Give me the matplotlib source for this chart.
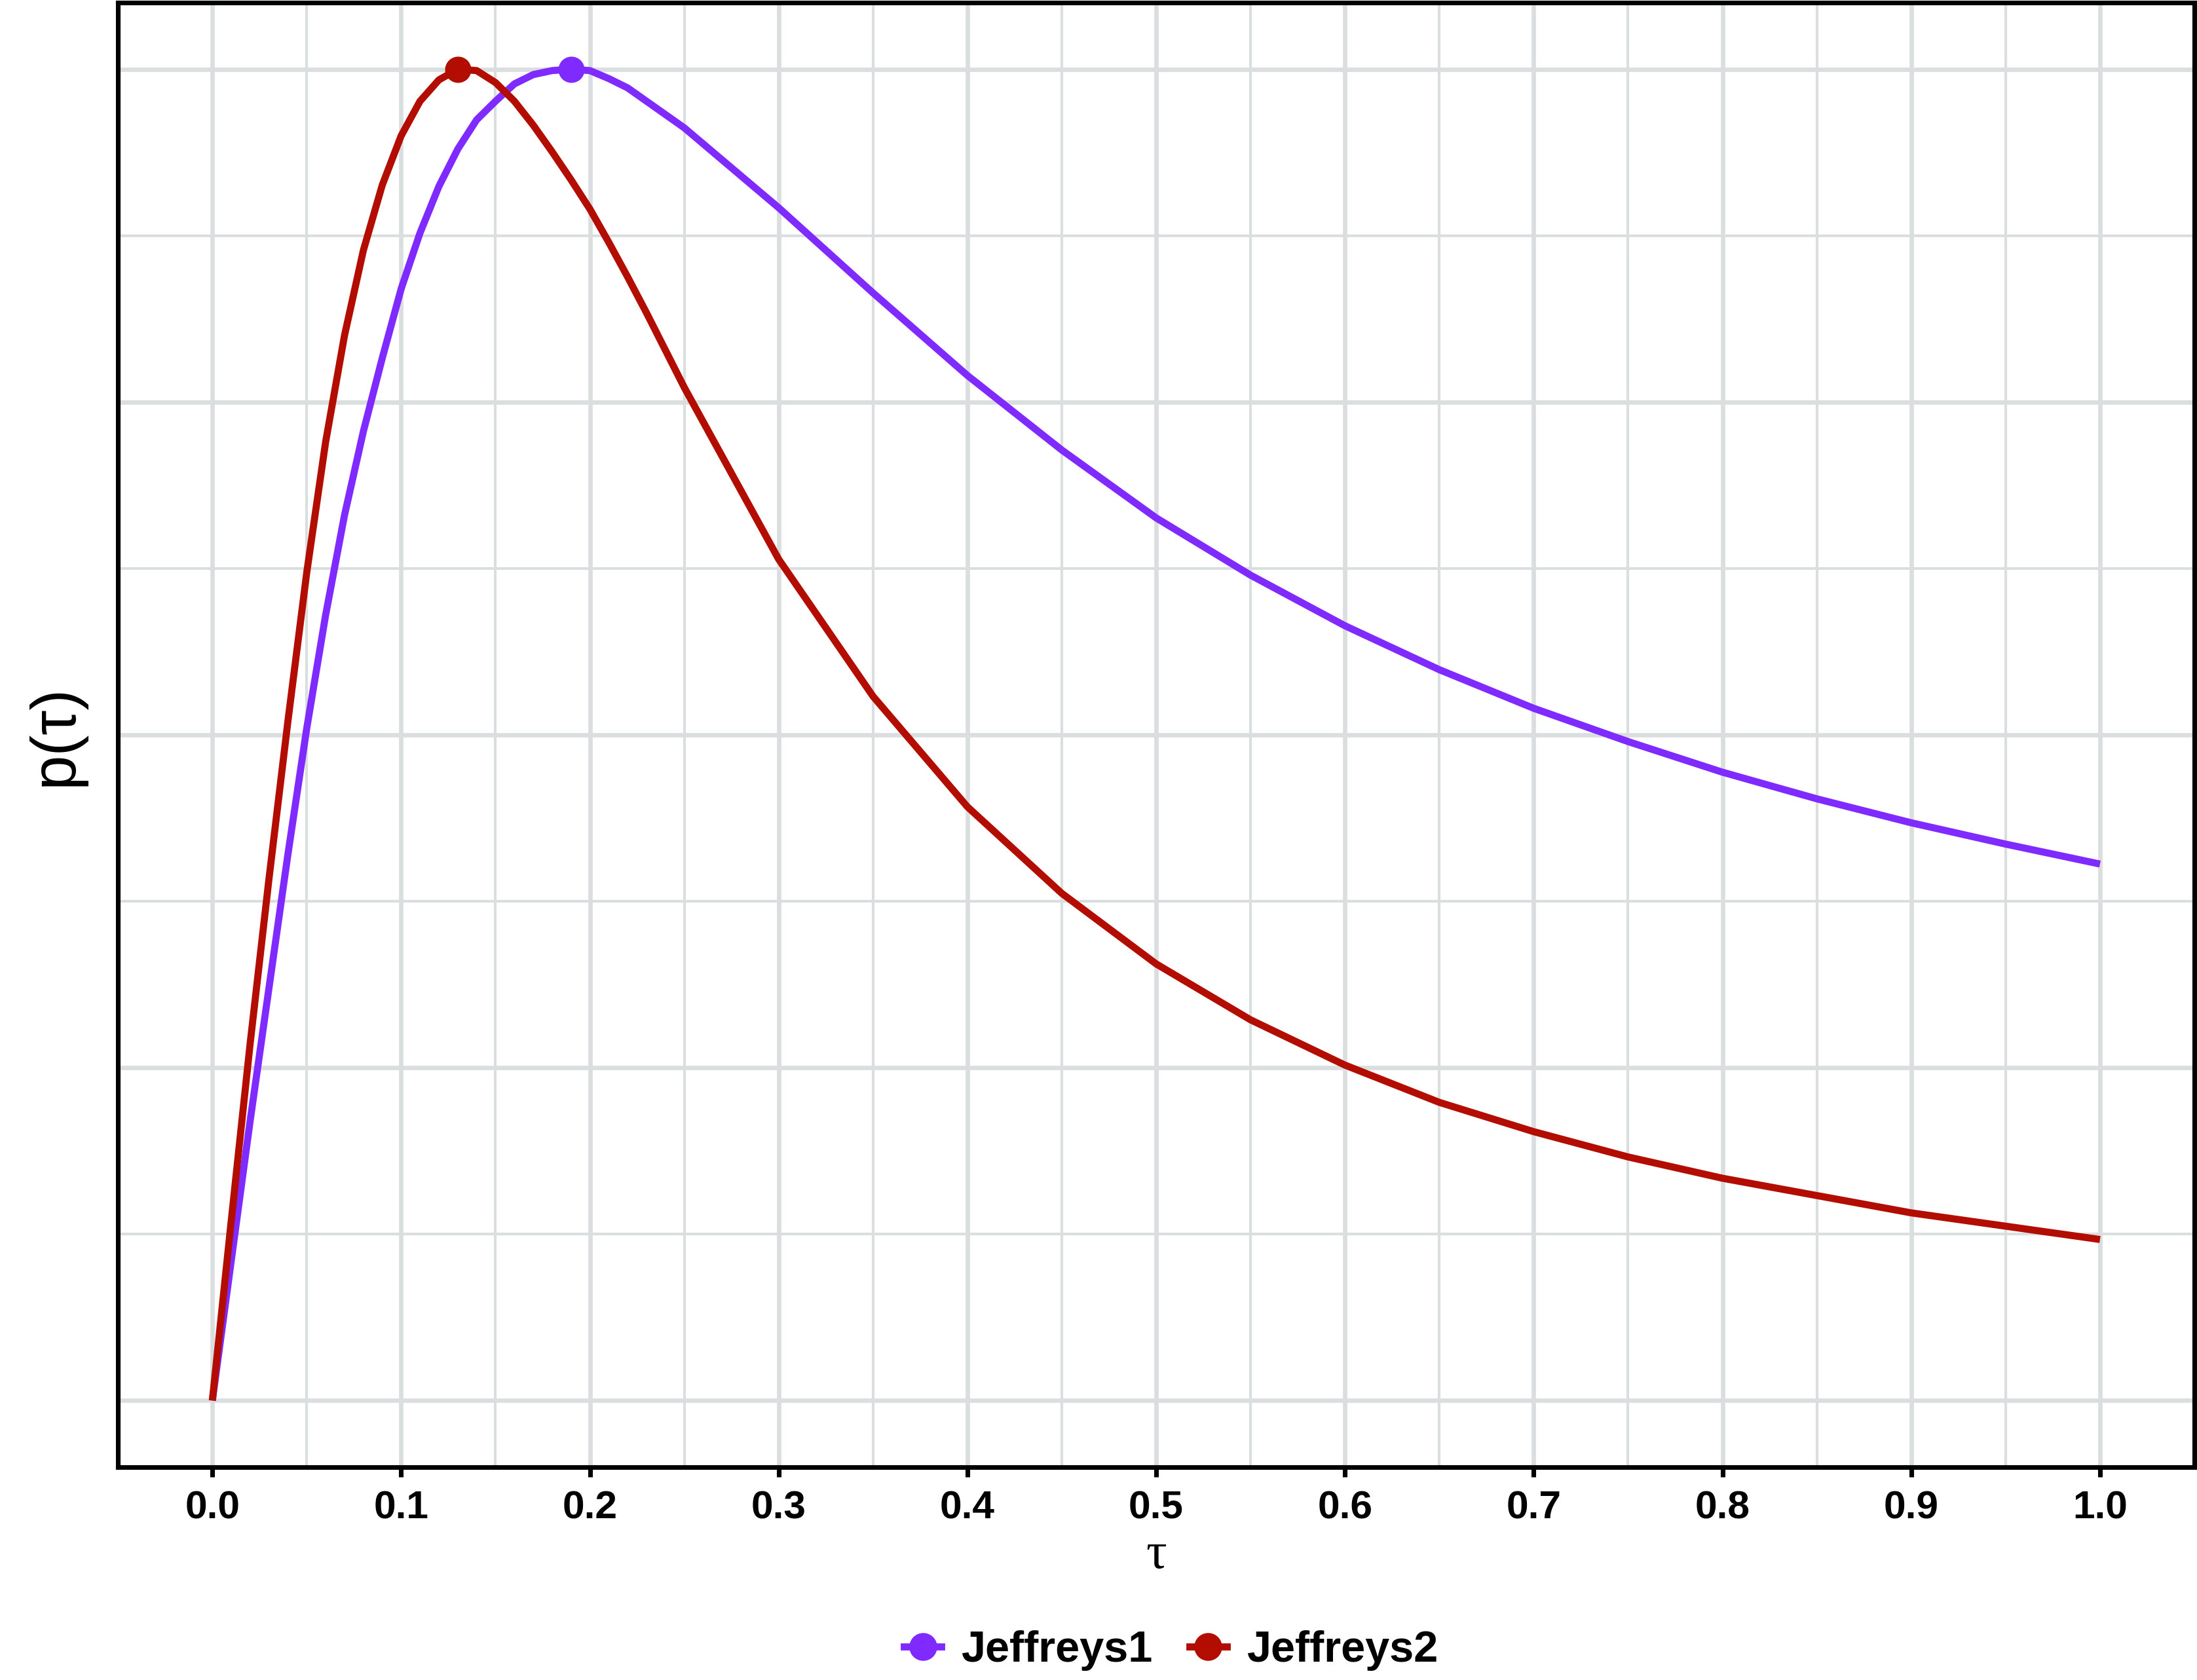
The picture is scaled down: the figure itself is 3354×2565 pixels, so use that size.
import matplotlib.pyplot as plt
from matplotlib.lines import Line2D
from matplotlib.ticker import MultipleLocator
import numpy as np

plt.rcParams['font.family'] = ['Liberation Sans', 'DejaVu Sans']

# tau grid: 0.01 steps up to 0.25, then 0.05 steps
tau = [0.00, 0.01, 0.02, 0.03, 0.04, 0.05, 0.06, 0.07, 0.08, 0.09,
       0.10, 0.11, 0.12, 0.13, 0.14, 0.15, 0.16, 0.17, 0.18, 0.19,
       0.20, 0.21, 0.22, 0.23, 0.24, 0.25,
       0.30, 0.35, 0.40, 0.45, 0.50, 0.55, 0.60, 0.65, 0.70, 0.75,
       0.80, 0.85, 0.90, 0.95, 1.00]

# normalised densities
jeffreys1 = [0.000, 0.105, 0.210, 0.310, 0.410, 0.505, 0.590, 0.665, 0.728, 0.783,
             0.835, 0.877, 0.912, 0.940, 0.962, 0.976, 0.989, 0.996, 0.999, 1.000,
             0.999, 0.993, 0.986, 0.976, 0.966, 0.956,
             0.896, 0.832, 0.770, 0.714, 0.663, 0.620, 0.582, 0.549, 0.520, 0.495,
             0.472, 0.452, 0.434, 0.418, 0.403]
jeffreys2 = [0.000, 0.135, 0.268, 0.392, 0.510, 0.622, 0.720, 0.800, 0.864, 0.913,
             0.950, 0.976, 0.992, 1.000, 0.999, 0.990, 0.976, 0.958, 0.938, 0.917,
             0.895, 0.870, 0.844, 0.817, 0.789, 0.761,
             0.632, 0.529, 0.446, 0.381, 0.328, 0.286, 0.252, 0.224, 0.202, 0.183,
             0.167, 0.154, 0.141, 0.131, 0.121]

series = ['Jeffreys1', 'Jeffreys2']
colors = ['#7F2BFF', '#B30C00']
grid_c = '#DADEDE'

fig = plt.figure(figsize=(11.18, 8.55), dpi=300)
ax = fig.add_axes([0.0537, 0.1267, 0.9451, 0.8717])

for name, vals, c in zip(series, [jeffreys1, jeffreys2], colors):
    ax.plot(tau, vals, color=c, lw=2.6, solid_capstyle='butt', zorder=3)
    i = int(np.argmax(vals))
    ax.plot(tau[i], vals[i], 'o', color=c, ms=8.6, zorder=4)

ax.set_xlim(-0.05, 1.05)
ax.set_ylim(-0.05, 1.05)
ax.set_xticks(np.arange(0, 1.01, 0.1))
ax.set_xticklabels(['0.0', '0.1', '0.2', '0.3', '0.4', '0.5', '0.6', '0.7', '0.8', '0.9', '1.0'],
                   fontweight='bold')
ax.xaxis.set_minor_locator(MultipleLocator(0.05))
ax.set_yticks([0, 0.25, 0.5, 0.75, 1.0])
ax.yaxis.set_minor_locator(MultipleLocator(0.125))

ax.grid(which='major', color=grid_c, lw=1.6, zorder=0)
ax.grid(which='minor', color=grid_c, lw=1.0, zorder=0)
ax.set_axisbelow(True)

ax.tick_params(axis='y', which='both', length=0, labelleft=False)
ax.tick_params(axis='x', which='minor', length=0)
ax.tick_params(axis='x', which='major', length=3.6, width=1.7, pad=5,
               labelsize=14.5, colors='black')

for s in ax.spines.values():
    s.set_linewidth(1.7)
    s.set_color('black')

ax.set_xlabel('τ', fontsize=19, family=['Liberation Serif', 'DejaVu Serif'], labelpad=2)
ax.set_ylabel('p(τ)', fontsize=23, labelpad=12)

handles = [Line2D([], [], color=c, lw=2.6, marker='o', ms=9.2) for c in colors]
fig.legend(handles, series, loc='center', bbox_to_anchor=(0.533, 0.0175), ncol=2,
           frameon=False, prop={'weight': 'bold', 'size': 16},
           handlelength=0.85, handletextpad=0.45, columnspacing=0.85)

fig.savefig('out.png', dpi=300)
